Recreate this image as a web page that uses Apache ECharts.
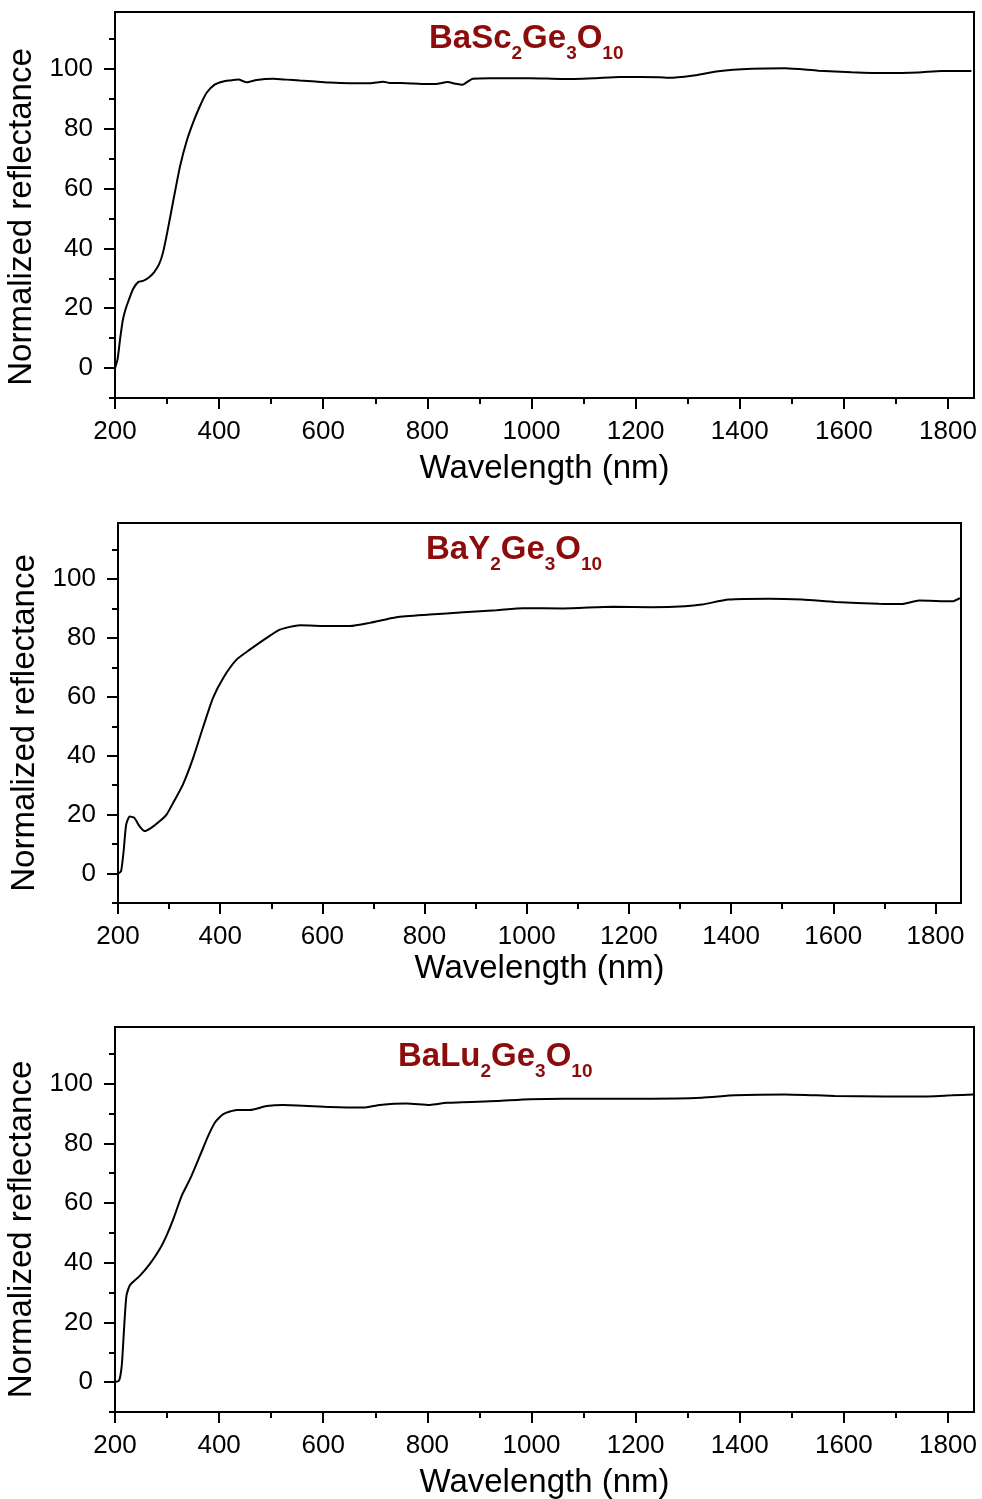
<!DOCTYPE html>
<html>
<head>
<meta charset="utf-8">
<title>Normalized reflectance spectra</title>
<script src="https://cdn.jsdelivr.net/npm/echarts@6/dist/echarts.min.js"></script>
<style>
  html, body { margin: 0; padding: 0; background: #fff; }
  #chart { width: 982px; height: 1499px; }
</style>
</head>
<body>
<div id="chart"></div>
<script>
// Wavelength (nm) and normalized reflectance for each compound
const wlSc = [200, 205, 210, 215, 220, 227, 235, 245, 255, 265, 275, 285, 292, 300, 312, 325, 337, 350, 363, 376, 392, 408, 420, 437, 453, 472, 504, 530, 555, 585, 613, 650, 690, 715, 728, 760, 798, 820, 839, 855, 868, 878, 887, 920, 997, 1060, 1120, 1170, 1246, 1263, 1308, 1359, 1423, 1487, 1551, 1615, 1678, 1743, 1788, 1845];
const rSc  = [0, 3, 10, 16, 19.5, 23, 26.5, 28.8, 29.2, 30.3, 32, 34.8, 38.5, 45, 56, 67.5, 75.5, 82, 87.5, 92, 94.8, 95.8, 96.1, 96.4, 95.5, 96.3, 96.7, 96.4, 96.1, 95.8, 95.4, 95.2, 95.2, 95.7, 95.3, 95.2, 94.9, 95.0, 95.6, 95.0, 94.7, 95.8, 96.7, 96.9, 96.9, 96.6, 96.9, 97.3, 97.2, 97.0, 97.7, 99.2, 100.0, 100.2, 99.4, 98.9, 98.6, 98.8, 99.3, 99.3];

const wlY = [200, 206, 211, 216, 223, 232, 242, 252, 265, 282, 295, 308, 327, 347, 366, 386, 406, 432, 458, 491, 517, 556, 615, 654, 693, 745, 810, 876, 941, 993, 1071, 1169, 1245, 1310, 1343, 1395, 1474, 1539, 1604, 1689, 1735, 1768, 1833, 1848];
const rY  = [0, 0.8, 7.6, 16.6, 19.4, 18.9, 16.1, 14.4, 15.5, 17.8, 20, 24, 30.2, 39.2, 49.4, 59.6, 66.4, 72.6, 76, 80, 82.8, 84.3, 84, 84, 85.1, 87, 87.9, 88.7, 89.4, 90.1, 90, 90.6, 90.4, 90.7, 91.3, 93, 93.3, 93, 92.2, 91.6, 91.5, 92.7, 92.4, 93.5];

const wlLu = [200, 208, 213, 217, 222, 229, 248, 267, 286, 299, 312, 328, 344, 363, 379, 392, 408, 434, 459, 491, 523, 613, 677, 709, 760, 805, 837, 933, 997, 1125, 1231, 1327, 1391, 1487, 1583, 1679, 1743, 1807, 1849];
const rLu  = [0, 0.6, 5.6, 16.7, 29, 32.6, 35.7, 39.6, 44.6, 49.1, 54.6, 62.4, 68, 75.8, 82.5, 87, 89.8, 91.2, 91.2, 92.5, 92.9, 92.2, 92, 92.9, 93.4, 92.9, 93.6, 94.2, 94.8, 95, 95, 95.3, 96.1, 96.4, 95.9, 95.7, 95.7, 96.1, 96.4];

// Tick positions
const xMajorTicks = [200, 400, 600, 800, 1000, 1200, 1400, 1600, 1800];
const xMinorTicks = [300, 500, 700, 900, 1100, 1300, 1500, 1700];
const yMajorTicks = [0, 20, 40, 60, 80, 100];
const yMinorTicks = [-10, 10, 30, 50, 70, 90, 110];

// Compound formulas: [text, isSubscript]
const formulaSc = [['BaSc', 0], ['2', 1], ['Ge', 0], ['3', 1], ['O', 0], ['10', 1]];
const formulaY  = [['BaY', 0], ['2', 1], ['Ge', 0], ['3', 1], ['O', 0], ['10', 1]];
const formulaLu = [['BaLu', 0], ['2', 1], ['Ge', 0], ['3', 1], ['O', 0], ['10', 1]];

const xName = 'Wavelength (nm)';
const yName = 'Normalized reflectance';

const FONT = '"Liberation Sans", Arial, sans-serif';
const TITLE_COLOR = '#8c0b0b';

const panels = [
  { wl: wlSc, r: rSc, formula: formulaSc, grid: { left: 115, top: 12, width: 859, height: 386 }, titleLeft: 429, titleTop: 21, yNamePad: 24, xNameGap: 54 },
  { wl: wlY,  r: rY,  formula: formulaY,  grid: { left: 118, top: 523, width: 843, height: 380 }, titleLeft: 426, titleTop: 532, yNamePad: 20, xNameGap: 49 },
  { wl: wlLu, r: rLu, formula: formulaLu, grid: { left: 115, top: 1027, width: 859, height: 385 }, titleLeft: 398, titleTop: 1039, yNamePad: 20, xNameGap: 54 }
];

const formulaText = f => f.map(([t, sub]) => '{' + (sub ? 's' : 'm') + '|' + t + '}').join('');
const plainNumber = v => String(v);

const grids = [], xAxes = [], yAxes = [], series = [], titles = [];
const axisLineStyle = { color: '#000', width: 2 };

panels.forEach((p, i) => {
  grids.push(Object.assign({
    show: true, borderColor: '#000', borderWidth: 2,
    backgroundColor: 'transparent', containLabel: false, outerBoundsMode: 'none'
  }, p.grid));

  // major x ticks, labels and name
  xAxes.push({
    gridIndex: i, type: 'value', position: 'bottom', min: 200, max: 1850,
    axisLine: { show: true, onZero: false, lineStyle: axisLineStyle },
    axisTick: { show: true, customValues: xMajorTicks, length: 11, lineStyle: axisLineStyle },
    axisLabel: { show: true, customValues: xMajorTicks, formatter: plainNumber, margin: 21, fontSize: 26, color: '#000', fontFamily: FONT },
    splitLine: { show: false },
    name: xName, nameLocation: 'middle', nameGap: p.xNameGap,
    nameTextStyle: { fontSize: 33, color: '#000', fontFamily: FONT }
  });
  // minor x ticks
  xAxes.push({
    gridIndex: i, type: 'value', position: 'bottom', min: 200, max: 1850,
    axisLine: { show: false, onZero: false },
    axisTick: { show: true, customValues: xMinorTicks, length: 6, lineStyle: axisLineStyle },
    axisLabel: { show: false }, splitLine: { show: false }
  });

  // major y ticks, labels and name
  yAxes.push({
    gridIndex: i, type: 'value', position: 'left', min: -10, max: 119,
    axisLine: { show: true, onZero: false, lineStyle: axisLineStyle },
    axisTick: { show: true, customValues: yMajorTicks, length: 11, lineStyle: axisLineStyle },
    axisLabel: { show: true, customValues: yMajorTicks, formatter: plainNumber, margin: 22, fontSize: 26, color: '#000', fontFamily: FONT },
    splitLine: { show: false },
    name: yName, nameLocation: 'middle', nameGap: 71,
    nameTextStyle: { fontSize: 33, color: '#000', fontFamily: FONT, padding: [0, p.yNamePad, 0, 0] }
  });
  // minor y ticks
  yAxes.push({
    gridIndex: i, type: 'value', position: 'left', min: -10, max: 119,
    axisLine: { show: false, onZero: false },
    axisTick: { show: true, customValues: yMinorTicks, length: 6, lineStyle: axisLineStyle },
    axisLabel: { show: false }, splitLine: { show: false }
  });

  series.push({
    type: 'line', xAxisIndex: 2 * i, yAxisIndex: 2 * i,
    data: p.wl.map((w, k) => [w, p.r[k]]),
    showSymbol: false, smooth: 0.2,
    lineStyle: { color: '#000', width: 2 },
    silent: true
  });

  titles.push({
    text: formulaText(p.formula),
    left: p.titleLeft, top: p.titleTop, padding: 0,
    textStyle: {
      rich: {
        m: { fontSize: 33, fontWeight: 'bold', color: TITLE_COLOR, fontFamily: FONT, verticalAlign: 'middle', lineHeight: 36 },
        s: { fontSize: 19, fontWeight: 'bold', color: TITLE_COLOR, fontFamily: FONT, verticalAlign: 'middle', lineHeight: 19, padding: [30, 0, 0, 0] }
      }
    }
  });
});

const chart = echarts.init(document.getElementById('chart'), null, { renderer: 'canvas' });
chart.setOption({
  animation: false,
  backgroundColor: '#fff',
  title: titles,
  grid: grids,
  xAxis: xAxes,
  yAxis: yAxes,
  series: series
});
</script>
</body>
</html>
